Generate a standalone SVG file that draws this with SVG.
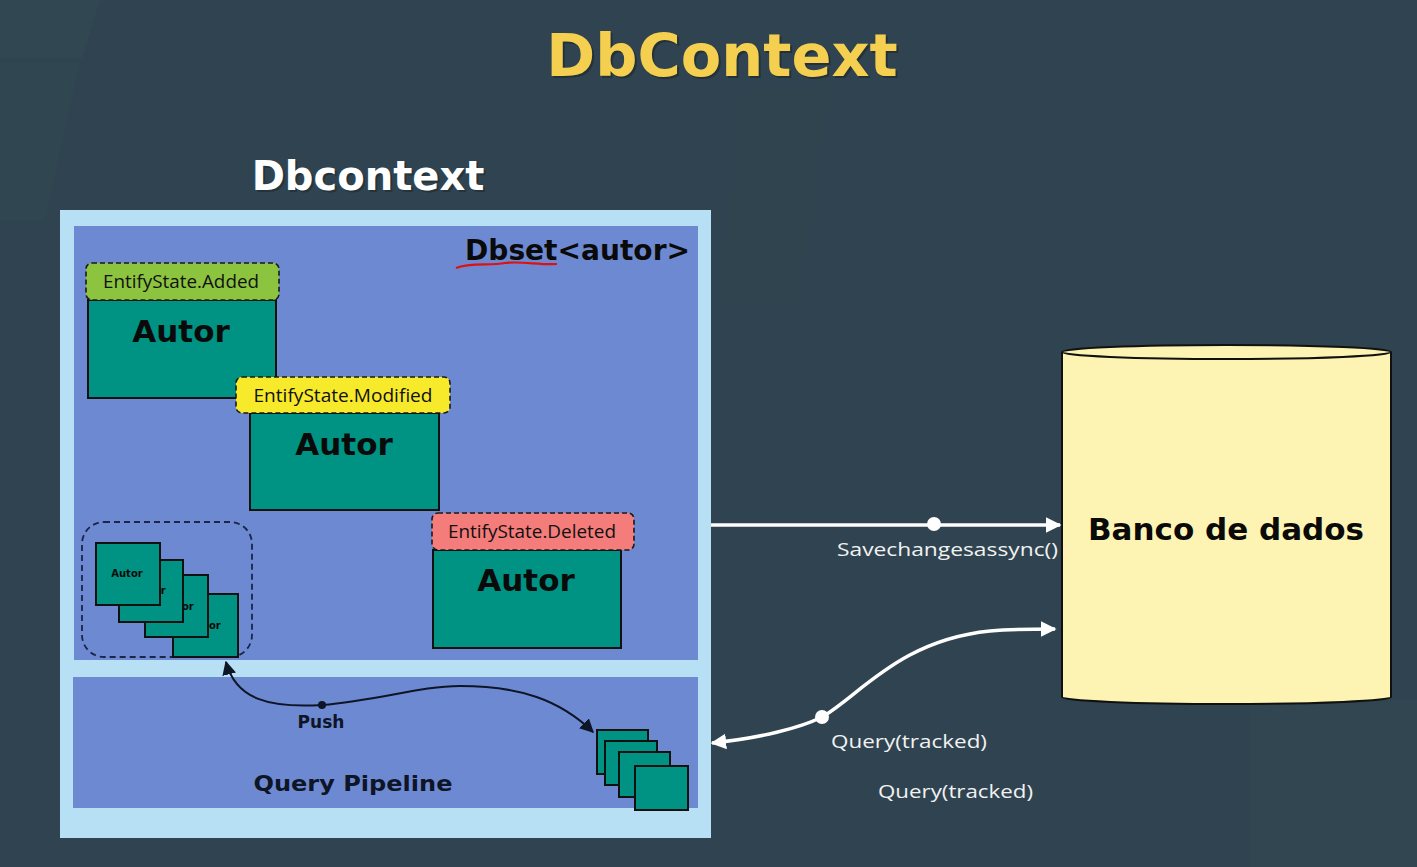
<svg xmlns="http://www.w3.org/2000/svg" width="1417" height="867" viewBox="0 0 1417 867">
<defs>
<style>
.bold{font-family:"DejaVu Sans",Verdana,sans-serif;font-weight:bold}
.cal{font-family:"Open Sans","Noto Sans",sans-serif}
.card{fill:#009282;stroke:#111;stroke-width:2}
.tag{stroke:#1a1a1a;stroke-width:1.6;stroke-dasharray:5 3}
.autor{font-family:"DejaVu Sans",Verdana,sans-serif;font-weight:bold;font-size:31px;fill:#0a0a0a;text-anchor:middle}
.small{font-family:"DejaVu Sans",Verdana,sans-serif;font-weight:bold;font-size:10px;fill:#0a0a0a;text-anchor:middle}
.wlabel{font-family:"Open Sans","Noto Sans",sans-serif;font-size:19px;fill:#f2f2f2}
.white{fill:none;stroke:#ffffff;stroke-width:3.5}
</style>
<marker id="wa" viewBox="0 0 10 10" refX="9" refY="5" markerWidth="4.5" markerHeight="4.5" orient="auto-start-reverse" markerUnits="strokeWidth">
<path d="M0,0 L10,5 L0,10 z" fill="#ffffff"/>
</marker>
<marker id="ba" viewBox="0 0 10 10" refX="9" refY="5" markerWidth="7" markerHeight="7" orient="auto-start-reverse" markerUnits="strokeWidth">
<path d="M0,0 L10,5 L0,10 z" fill="#0d1526"/>
</marker>
</defs>

<rect width="1417" height="867" fill="#2f4450"/>
<polygon points="0,0 100,0 82,58 0,58" fill="#334b55" opacity="0.6"/>
<polygon points="0,62 80,62 45,220 0,220" fill="#324850" opacity="0.5"/>
<polygon points="740,90 830,90 800,300 720,300" fill="#31474f" opacity="0.4"/>
<rect x="1250" y="700" width="167" height="167" fill="#33484f" opacity="0.5"/>

<g id="title">
<text x="724" y="78" text-anchor="middle" class="bold" font-size="59" fill="#1e2a30" opacity="0.7">DbContext</text>
<text x="722" y="76" text-anchor="middle" class="bold" font-size="59" fill="#f5cf4f">DbContext</text>
</g>

<g id="dbcontext-label">
<text x="370" y="192" text-anchor="middle" class="bold" font-size="40" fill="#1e2a30" opacity="0.6">Dbcontext</text>
<text x="368" y="190" text-anchor="middle" class="bold" font-size="40" fill="#ffffff">Dbcontext</text>
</g>

<g id="dbcontext-box">
<rect x="60" y="210" width="651" height="628" fill="#b8e0f5"/>
<rect x="74" y="226" width="624" height="434" fill="#6d89d1"/>
<rect x="73" y="677" width="625" height="131" fill="#6d89d1"/>
</g>

<g id="dbset">
<text x="465" y="260" class="bold" font-size="28" fill="#0a0a0a" textLength="225" lengthAdjust="spacingAndGlyphs">Dbset&lt;autor&gt;</text>
<path d="M456,268 C470,262 490,266 505,263 C520,261 540,265 557,264" fill="none" stroke="#e01010" stroke-width="2.2"/>
</g>

<g id="autor-added">
<rect x="88" y="300" width="188" height="98" class="card"/>
<rect x="86" y="263" width="193" height="37" rx="6" class="tag" fill="#8cc43f"/>
<text x="181" y="288" class="cal" font-size="19" fill="#111" text-anchor="middle" textLength="156" lengthAdjust="spacingAndGlyphs">EntifyState.Added</text>
<text x="181" y="342" class="autor">Autor</text>
</g>

<g id="autor-modified">
<rect x="250" y="413" width="189" height="97" class="card"/>
<rect x="236" y="377" width="214" height="36" rx="6" class="tag" fill="#f7ea2b"/>
<text x="343" y="402" class="cal" font-size="19" fill="#111" text-anchor="middle" textLength="179" lengthAdjust="spacingAndGlyphs">EntifyState.Modified</text>
<text x="344" y="455" class="autor">Autor</text>
</g>

<g id="autor-deleted">
<rect x="433" y="550" width="188" height="98" class="card"/>
<rect x="432" y="513" width="202" height="37" rx="6" class="tag" fill="#f47c7a"/>
<text x="532" y="538" class="cal" font-size="19" fill="#111" text-anchor="middle" textLength="168" lengthAdjust="spacingAndGlyphs">EntifyState.Deleted</text>
<text x="526" y="591" class="autor">Autor</text>
</g>

<g id="tracked-set">
<rect x="82" y="522" width="170" height="135" rx="22" fill="none" stroke="#1a2547" stroke-width="1.8" stroke-dasharray="6 4"/>
<rect x="173" y="594" width="65" height="63" class="card"/>
<text x="205" y="629" class="small">Autor</text>
<rect x="145" y="575" width="63" height="62" class="card"/>
<text x="178" y="610" class="small">Autor</text>
<rect x="119" y="560" width="64" height="62" class="card"/>
<text x="150" y="594" class="small">Autor</text>
<rect x="96" y="543" width="64" height="62" class="card"/>
<text x="127" y="577" class="small">Autor</text>
</g>

<g id="query-pipeline">
<text x="353" y="791" class="bold" font-size="22" fill="#0d1526" text-anchor="middle" textLength="199" lengthAdjust="spacingAndGlyphs">Query Pipeline</text>
<rect x="597" y="730" width="51" height="44" class="card"/>
<rect x="605" y="741" width="52" height="44" class="card"/>
<rect x="619" y="752" width="51" height="45" class="card"/>
<rect x="635" y="766" width="53" height="44" class="card"/>
</g>

<g id="banco">
<path d="M1062,352 L1062,697 A164.5,7 0 0 0 1391,697 L1391,352" fill="#fdf3b2" stroke="#111" stroke-width="2"/>
<ellipse cx="1226.5" cy="352" rx="164.5" ry="7" fill="#fdf3b2" stroke="#111" stroke-width="2"/>
<text x="1226" y="540" class="bold" font-size="31" fill="#0a0a0a" text-anchor="middle">Banco de dados</text>
</g>

<g id="connectors">
<path d="M226,662 C236,700 270,708 322,705 C380,700 420,686 460,686 C520,686 560,700 593,732" fill="none" stroke="#0d1526" stroke-width="2" marker-start="url(#ba)" marker-end="url(#ba)"/>
<circle cx="322" cy="705" r="4" fill="#0d1526"/>
<text x="321" y="728" class="bold" font-size="17" fill="#0d1526" text-anchor="middle">Push</text>

<line x1="711" y1="525" x2="1060" y2="525" class="white" marker-end="url(#wa)"/>
<circle cx="934" cy="524" r="7" fill="#ffffff"/>
<text x="837" y="556" class="wlabel" textLength="221" lengthAdjust="spacingAndGlyphs">Savechangesassync()</text>

<path d="M712,743 C760,738 800,728 822,717 C860,695 900,640 990,631 C1015,629 1035,629 1055,629" class="white" marker-start="url(#wa)" marker-end="url(#wa)"/>
<circle cx="822" cy="717" r="7" fill="#ffffff"/>
<text x="831" y="748" class="wlabel" textLength="156" lengthAdjust="spacingAndGlyphs">Query(tracked)</text>
<text x="878" y="798" class="wlabel" textLength="155" lengthAdjust="spacingAndGlyphs">Query(tracked)</text>
</g>
</svg>
